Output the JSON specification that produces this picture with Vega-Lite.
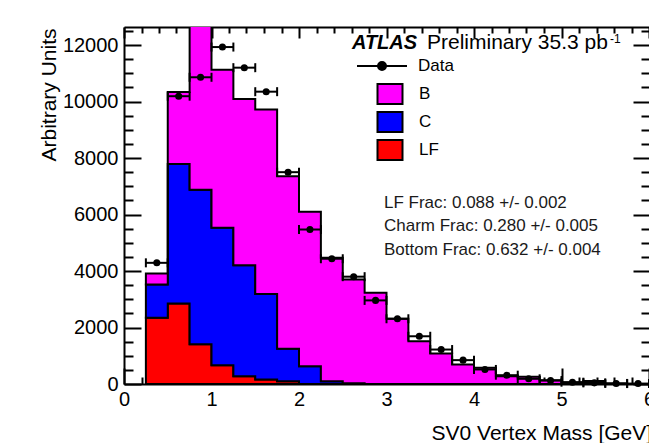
{
  "$schema": "https://vega.github.io/schema/vega-lite/v6.json",
  "width": 525,
  "height": 357,
  "autosize": "none",
  "padding": {"left": 124, "top": 27, "right": 0, "bottom": 59},
  "background": "white",
  "config": {
    "font": "Liberation Sans",
    "view": {"stroke": null},
    "axis": {
      "grid": false,
      "domain": false,
      "domainColor": "black",
      "domainWidth": 2,
      "labelFont": "Liberation Sans",
      "labelFontSize": 20,
      "labelColor": "black",
      "titleFont": "Liberation Sans",
      "titleFontSize": 21,
      "titleFontWeight": "normal",
      "titleColor": "black",
      "tickColor": "black",
      "tickWidth": 2
    }
  },
  "datasets": {
    "mc": [
      {"m": 0.25, "comp": "LF", "v": 2345}, {"m": 0.25, "comp": "C", "v": 1180}, {"m": 0.25, "comp": "B", "v": 389},
      {"m": 0.5, "comp": "LF", "v": 2851}, {"m": 0.5, "comp": "C", "v": 4934}, {"m": 0.5, "comp": "B", "v": 2550},
      {"m": 0.75, "comp": "LF", "v": 1410}, {"m": 0.75, "comp": "C", "v": 5468}, {"m": 0.75, "comp": "B", "v": 6922},
      {"m": 1.0, "comp": "LF", "v": 666}, {"m": 1.0, "comp": "C", "v": 4866}, {"m": 1.0, "comp": "B", "v": 5598},
      {"m": 1.25, "comp": "LF", "v": 276}, {"m": 1.25, "comp": "C", "v": 3932}, {"m": 1.25, "comp": "B", "v": 5880},
      {"m": 1.5, "comp": "LF", "v": 160}, {"m": 1.5, "comp": "C", "v": 3030}, {"m": 1.5, "comp": "B", "v": 6533},
      {"m": 1.75, "comp": "LF", "v": 100}, {"m": 1.75, "comp": "C", "v": 1147}, {"m": 1.75, "comp": "B", "v": 6113},
      {"m": 2.0, "comp": "LF", "v": 0}, {"m": 2.0, "comp": "C", "v": 630}, {"m": 2.0, "comp": "B", "v": 5469},
      {"m": 2.25, "comp": "LF", "v": 0}, {"m": 2.25, "comp": "C", "v": 100}, {"m": 2.25, "comp": "B", "v": 4370},
      {"m": 2.5, "comp": "LF", "v": 0}, {"m": 2.5, "comp": "C", "v": 30}, {"m": 2.5, "comp": "B", "v": 3671},
      {"m": 2.75, "comp": "LF", "v": 0}, {"m": 2.75, "comp": "C", "v": 0}, {"m": 2.75, "comp": "B", "v": 3230},
      {"m": 3.0, "comp": "LF", "v": 0}, {"m": 3.0, "comp": "C", "v": 0}, {"m": 3.0, "comp": "B", "v": 2309},
      {"m": 3.25, "comp": "LF", "v": 0}, {"m": 3.25, "comp": "C", "v": 0}, {"m": 3.25, "comp": "B", "v": 1516},
      {"m": 3.5, "comp": "LF", "v": 0}, {"m": 3.5, "comp": "C", "v": 0}, {"m": 3.5, "comp": "B", "v": 1080},
      {"m": 3.75, "comp": "LF", "v": 0}, {"m": 3.75, "comp": "C", "v": 0}, {"m": 3.75, "comp": "B", "v": 691},
      {"m": 4.0, "comp": "LF", "v": 0}, {"m": 4.0, "comp": "C", "v": 0}, {"m": 4.0, "comp": "B", "v": 574},
      {"m": 4.25, "comp": "LF", "v": 0}, {"m": 4.25, "comp": "C", "v": 0}, {"m": 4.25, "comp": "B", "v": 276},
      {"m": 4.5, "comp": "LF", "v": 0}, {"m": 4.5, "comp": "C", "v": 0}, {"m": 4.5, "comp": "B", "v": 255},
      {"m": 4.75, "comp": "LF", "v": 0}, {"m": 4.75, "comp": "C", "v": 0}, {"m": 4.75, "comp": "B", "v": 135},
      {"m": 5.0, "comp": "LF", "v": 0}, {"m": 5.0, "comp": "C", "v": 0}, {"m": 5.0, "comp": "B", "v": 50},
      {"m": 5.25, "comp": "LF", "v": 0}, {"m": 5.25, "comp": "C", "v": 0}, {"m": 5.25, "comp": "B", "v": 110},
      {"m": 5.5, "comp": "LF", "v": 0}, {"m": 5.5, "comp": "C", "v": 0}, {"m": 5.5, "comp": "B", "v": 20},
      {"m": 5.75, "comp": "LF", "v": 0}, {"m": 5.75, "comp": "C", "v": 0}, {"m": 5.75, "comp": "B", "v": 0}
    ],
    "obs": [
      {"mid": 0.375, "lo": 0.25, "hi": 0.5, "n": 4290},
      {"mid": 0.625, "lo": 0.5, "hi": 0.75, "n": 10190},
      {"mid": 0.875, "lo": 0.75, "hi": 1.0, "n": 10860},
      {"mid": 1.125, "lo": 1.0, "hi": 1.25, "n": 11930},
      {"mid": 1.375, "lo": 1.25, "hi": 1.5, "n": 11200},
      {"mid": 1.625, "lo": 1.5, "hi": 1.75, "n": 10350},
      {"mid": 1.875, "lo": 1.75, "hi": 2.0, "n": 7500},
      {"mid": 2.125, "lo": 2.0, "hi": 2.25, "n": 5470},
      {"mid": 2.375, "lo": 2.25, "hi": 2.5, "n": 4435},
      {"mid": 2.625, "lo": 2.5, "hi": 2.75, "n": 3800},
      {"mid": 2.875, "lo": 2.75, "hi": 3.0, "n": 2960},
      {"mid": 3.125, "lo": 3.0, "hi": 3.25, "n": 2310},
      {"mid": 3.375, "lo": 3.25, "hi": 3.5, "n": 1690},
      {"mid": 3.625, "lo": 3.5, "hi": 3.75, "n": 1220},
      {"mid": 3.875, "lo": 3.75, "hi": 4.0, "n": 845},
      {"mid": 4.125, "lo": 4.0, "hi": 4.25, "n": 515},
      {"mid": 4.375, "lo": 4.25, "hi": 4.5, "n": 312},
      {"mid": 4.625, "lo": 4.5, "hi": 4.75, "n": 184},
      {"mid": 4.875, "lo": 4.75, "hi": 5.0, "n": 124},
      {"mid": 5.125, "lo": 5.0, "hi": 5.25, "n": 64},
      {"mid": 5.375, "lo": 5.25, "hi": 5.5, "n": 40},
      {"mid": 5.625, "lo": 5.5, "hi": 5.75, "n": 20},
      {"mid": 5.875, "lo": 5.75, "hi": 6.0, "n": 15}
    ],
    "one": [{}]
  },
  "layer": [
    {
      "data": {"name": "mc"},
      "mark": {"type": "area", "interpolate": "step-after", "stroke": "black", "strokeWidth": 2, "clip": true, "opacity": 1},
      "encoding": {
        "x": {
          "field": "m", "type": "quantitative",
          "scale": {"domain": [0, 6], "nice": false, "zero": false},
          "axis": {
            "orient": "bottom", "values": [0, 1, 2, 3, 4, 5, 6], "format": "d",
            "domain": true, "ticks": false, "labelPadding": 5, "labelFlush": false, "labelOverlap": false,
            "title": "SV0 Vertex Mass [GeV]", "titleX": 307, "titleY": 55,
            "titleAlign": "left", "titleBaseline": "alphabetic"
          }
        },
        "y": {
          "field": "v", "type": "quantitative", "stack": "zero",
          "scale": {"domain": [0, 12640], "nice": false},
          "axis": {
            "values": [0, 2000, 4000, 6000, 8000, 10000, 12000], "format": "d",
            "domain": true, "ticks": false, "labelPadding": 6, "labelFlush": false, "labelOverlap": false,
            "title": "Arbitrary Units", "titleAngle": -90, "titleX": -69, "titleY": 1,
            "titleAlign": "right", "titleBaseline": "alphabetic"
          }
        },
        "color": {
          "field": "comp", "type": "nominal",
          "scale": {"domain": ["B", "C", "LF"], "range": ["#ff00ff", "#0000ff", "#ff0000"]},
          "legend": {
            "orient": "none", "legendX": 255, "legendY": 56, "title": null, "padding": 0,
            "symbolType": "M-1.25,-1H1.25V1H-1.25Z", "symbolSize": 400,
            "symbolStrokeColor": "black", "symbolStrokeWidth": 2, "symbolOpacity": 1,
            "labelFont": "Liberation Sans", "labelFontSize": 17, "labelColor": "black",
            "labelOffset": 18, "rowPadding": 0
          }
        },
        "order": {"field": "comp", "sort": "descending"}
      }
    },
    {
      "data": {"name": "obs"},
      "mark": {"type": "rule", "stroke": "black", "strokeWidth": 2},
      "encoding": {
        "x": {
          "field": "lo", "type": "quantitative",
          "axis": {"orient": "bottom", "values": [0, 1, 2, 3, 4, 5, 6], "labels": false, "tickSize": -16, "title": null}
        },
        "x2": {"field": "hi"},
        "y": {
          "field": "n", "type": "quantitative",
          "axis": {"orient": "left", "values": [0, 2000, 4000, 6000, 8000, 10000, 12000], "labels": false, "tickSize": -17, "title": null}
        }
      }
    },
    {
      "data": {"name": "obs"},
      "transform": [{"fold": ["lo", "hi"], "as": ["side", "edge"]}],
      "mark": {"type": "tick", "orient": "vertical", "color": "black", "size": 9, "thickness": 2, "opacity": 1},
      "encoding": {
        "x": {
          "field": "edge", "type": "quantitative",
          "axis": {
            "orient": "bottom", "labels": false, "tickSize": -7, "title": null,
            "values": [0.2, 0.4, 0.6, 0.8, 1.2, 1.4, 1.6, 1.8, 2.2, 2.4, 2.6, 2.8, 3.2, 3.4, 3.6, 3.8, 4.2, 4.4, 4.6, 4.8, 5.2, 5.4, 5.6, 5.8]
          }
        },
        "y": {
          "field": "n", "type": "quantitative",
          "axis": {
            "orient": "left", "labels": false, "tickSize": -9, "title": null,
            "values": [500, 1000, 1500, 2500, 3000, 3500, 4500, 5000, 5500, 6500, 7000, 7500, 8500, 9000, 9500, 10500, 11000, 11500, 12500]
          }
        }
      }
    },
    {
      "data": {"name": "obs"},
      "mark": {"type": "point", "filled": true, "fill": "black", "size": 50, "opacity": 1, "strokeWidth": 0},
      "encoding": {
        "x": {
          "field": "mid", "type": "quantitative",
          "axis": {"orient": "top", "values": [0, 1, 2, 3, 4, 5, 6], "domain": true, "labels": false, "tickSize": -11, "title": null}
        },
        "y": {"field": "n", "type": "quantitative", "axis": null},
        "stroke": {
          "datum": "Data",
          "scale": {"domain": ["Data"], "range": ["black"]},
          "legend": {
            "orient": "none", "legendX": 247, "legendY": 28, "title": null, "padding": 0,
            "symbolType": "M-2.5,0H2.5M-0.4,0A0.4,0.4,0,1,1,0.4,0A0.4,0.4,0,1,1,-0.4,0Z",
            "symbolSize": 400, "symbolFillColor": "black", "symbolStrokeColor": "black",
            "symbolStrokeWidth": 2, "symbolOpacity": 1,
            "labelFont": "Liberation Sans", "labelFontSize": 17, "labelColor": "black",
            "labelOffset": 25
          }
        }
      }
    },
    {
      "data": {"name": "one"},
      "mark": {"type": "text", "text": "ATLAS", "font": "Liberation Sans", "fontSize": 20, "fontStyle": "italic", "fontWeight": "bold", "align": "left", "baseline": "alphabetic", "color": "black"},
      "encoding": {
        "x": {
          "datum": 2.605, "type": "quantitative",
          "axis": {
            "orient": "top", "labels": false, "tickSize": -6, "title": null,
            "values": [0.2, 0.4, 0.6, 0.8, 1.2, 1.4, 1.6, 1.8, 2.2, 2.4, 2.6, 2.8, 3.2, 3.4, 3.6, 3.8, 4.2, 4.4, 4.6, 4.8, 5.2, 5.4, 5.6, 5.8]
          }
        },
        "y": {"datum": 11861, "type": "quantitative", "axis": null}
      }
    },
    {
      "data": {"name": "one"},
      "mark": {"type": "text", "text": "Preliminary 35.3 pb", "font": "Liberation Sans", "fontSize": 21, "align": "left", "baseline": "alphabetic", "color": "black"},
      "encoding": {
        "x": {"datum": 3.463, "type": "quantitative", "axis": null},
        "y": {
          "datum": 11861, "type": "quantitative",
          "axis": {"orient": "right", "values": [0, 2000, 4000, 6000, 8000, 10000, 12000], "labels": false, "tickSize": -16, "title": null}
        }
      }
    },
    {
      "data": {"name": "one"},
      "mark": {"type": "text", "text": "-1", "font": "Liberation Sans", "fontSize": 12, "align": "left", "baseline": "alphabetic", "color": "black"},
      "encoding": {
        "x": {"datum": 5.555, "type": "quantitative", "axis": null},
        "y": {
          "datum": 12073, "type": "quantitative",
          "axis": {
            "orient": "right", "labels": false, "tickSize": -8, "title": null,
            "values": [500, 1000, 1500, 2500, 3000, 3500, 4500, 5000, 5500, 6500, 7000, 7500, 8500, 9000, 9500, 10500, 11000, 11500, 12500]
          }
        }
      }
    },
    {
      "data": {"name": "one"},
      "mark": {
        "type": "text",
        "text": ["LF Frac: 0.088 +/- 0.002", "Charm Frac: 0.280 +/- 0.005", "Bottom Frac: 0.632 +/- 0.004"],
        "font": "Liberation Sans", "fontSize": 17, "lineHeight": 23.3,
        "align": "left", "baseline": "alphabetic", "color": "#1a1a1a"
      },
      "encoding": {
        "x": {"datum": 2.971, "type": "quantitative", "axis": null},
        "y": {"datum": 6231, "type": "quantitative", "axis": null}
      }
    }
  ],
  "resolve": {
    "scale": {"x": "shared", "y": "shared"},
    "axis": {"x": "independent", "y": "independent"}
  }
}
